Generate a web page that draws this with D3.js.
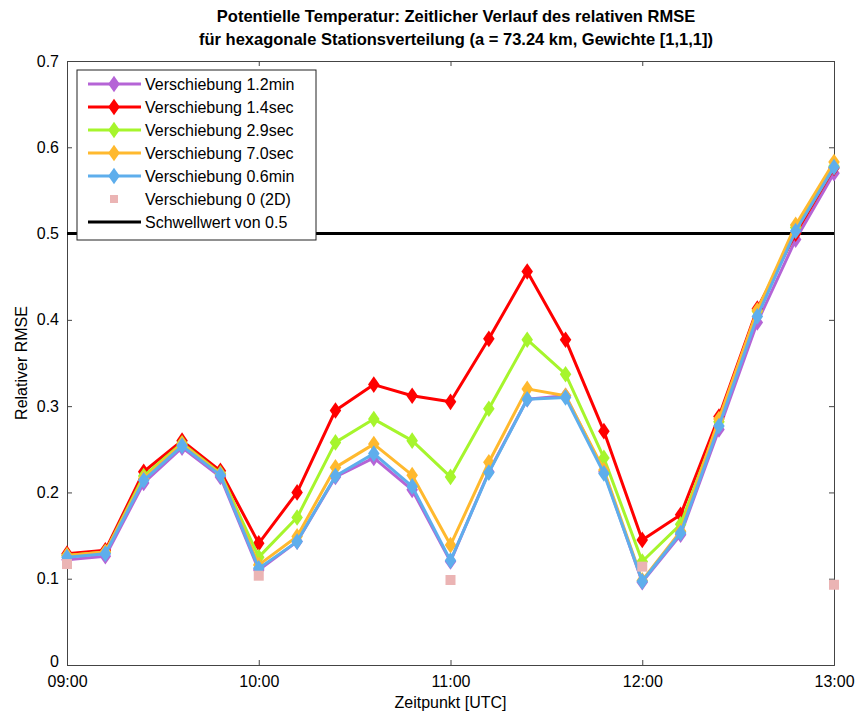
<!DOCTYPE html>
<html lang="de">
<head>
  <meta charset="UTF-8">
  <title>Relativer RMSE</title>
  <script src="https://d3js.org/d3.v7.min.js"></script>
  <style>
    body { margin: 0; background: #fff; }
    svg { display: block; font-family: "Liberation Sans", Arial, sans-serif; }
    .title { font-size: 16.5px; font-weight: bold; }
    .tick text { font-size: 16px; fill: #000; }
    .axis-label { font-size: 16px; }
    .legend text { font-size: 16px; }
  </style>
</head>
<body>
<svg width="858" height="713"></svg>
<script>
// 21 Zeitpunkte, alle 12 Minuten von 09:00 bis 13:00
const times = d3.range(21).map(i => 9 * 60 + i * 12);
const xTickLabels = ["09:00", "10:00", "11:00", "12:00", "13:00"];
const yTicks = [0, 0.1, 0.2, 0.3, 0.4, 0.5, 0.6, 0.7];

const names = ["Verschiebung 1.2min", "Verschiebung 1.4sec", "Verschiebung 2.9sec",
               "Verschiebung 7.0sec", "Verschiebung 0.6min"];
const colors = ["#b564d6", "#ff0000", "#a6f52c", "#ffb92e", "#5eaeec"];

const v12min = [0.122, 0.126, 0.211, 0.252, 0.218, 0.110, 0.143, 0.218, 0.240, 0.203, 0.120,
                0.224, 0.308, 0.312, 0.224, 0.096, 0.151, 0.273, 0.397, 0.493, 0.570];
const v14sec = [0.129, 0.133, 0.224, 0.260, 0.225, 0.141, 0.200, 0.295, 0.325, 0.312, 0.305,
                0.378, 0.456, 0.377, 0.271, 0.145, 0.174, 0.288, 0.413, 0.500, 0.576];
const v29sec = [0.127, 0.131, 0.219, 0.257, 0.222, 0.125, 0.171, 0.258, 0.285, 0.260, 0.218,
                0.297, 0.377, 0.337, 0.240, 0.120, 0.163, 0.282, 0.410, 0.507, 0.578];
const v70sec = [0.127, 0.131, 0.216, 0.256, 0.221, 0.116, 0.149, 0.229, 0.256, 0.220, 0.139,
                0.235, 0.320, 0.312, 0.226, 0.098, 0.155, 0.285, 0.411, 0.510, 0.583];
const v06min = [0.125, 0.129, 0.214, 0.254, 0.220, 0.112, 0.143, 0.219, 0.245, 0.207, 0.121,
                0.223, 0.308, 0.310, 0.222, 0.097, 0.153, 0.277, 0.404, 0.503, 0.577];
const series = [v12min, v14sec, v29sec, v70sec, v06min];

// 2D-Werte nur zu vollen Stunden
const times2D = [9 * 60, 10 * 60, 11 * 60, 12 * 60, 13 * 60];
const v2D = [0.117, 0.1035, 0.0985, 0.114, 0.093];
const threshold = 0.5;

const margin = {top: 61, right: 24, bottom: 48, left: 67},
      width = 858 - margin.left - margin.right,
      height = 713 - margin.top - margin.bottom;

const svg = d3.select("svg");
const g = svg.append("g").attr("transform", `translate(${margin.left},${margin.top})`);

const x = d3.scaleLinear().domain([9 * 60, 13 * 60]).range([0, width]);
const y = d3.scaleLinear().domain([0, 0.7]).range([height, 0]);

// Titel
svg.append("text").attr("class", "title").attr("x", 456).attr("y", 22)
  .attr("text-anchor", "middle")
  .text("Potentielle Temperatur: Zeitlicher Verlauf des relativen RMSE");
svg.append("text").attr("class", "title").attr("x", 456).attr("y", 45)
  .attr("text-anchor", "middle")
  .text("für hexagonale Stationsverteilung (a = 73.24 km, Gewichte [1,1,1])");

const hourTicks = xTickLabels.map(s => +s.slice(0, 2) * 60);

// Achsen (Ticks nach innen, Box)
const xAxis = g.append("g").attr("transform", `translate(0,${height})`)
  .call(d3.axisBottom(x).tickValues(hourTicks).tickSize(-5).tickPadding(12)
    .tickFormat((d, i) => xTickLabels[i]));
const yAxis = g.append("g")
  .call(d3.axisLeft(y).tickValues(yTicks).tickSize(-5).tickPadding(8)
    .tickFormat(d => d === 0 ? "0" : d3.format(".1f")(d)));
yAxis.selectAll(".tick text").filter(d => d === 0).attr("dy", "0.1em");
g.append("g").attr("transform", `translate(${width},0)`)
  .call(d3.axisRight(y).tickValues(yTicks).tickSize(-5).tickFormat(""));
g.append("g")
  .call(d3.axisTop(x).tickValues(hourTicks).tickSize(-5).tickFormat(""));
g.selectAll(".domain").attr("stroke", "#444");
g.selectAll(".tick line").attr("stroke", "#444");

xAxis.selectAll(".tick text").attr("dy", "0.6em");

svg.append("text").attr("class", "axis-label")
  .attr("x", margin.left + width / 2).attr("y", 708)
  .attr("text-anchor", "middle").text("Zeitpunkt [UTC]");
svg.append("text").attr("class", "axis-label")
  .attr("transform", `translate(27,${margin.top + height / 2}) rotate(-90)`)
  .attr("text-anchor", "middle").text("Relativer RMSE");

// Schwellwert
g.append("line")
  .attr("x1", 0).attr("x2", width)
  .attr("y1", y(threshold)).attr("y2", y(threshold))
  .attr("stroke", "#000").attr("stroke-width", 3);

const line = d3.line().x((d, i) => x(times[i])).y(d => y(d));
const diamond = d3.symbol().type(d3.symbolDiamond).size(80);

series.forEach((vals, k) => {
  g.append("path").datum(vals)
    .attr("fill", "none").attr("stroke", colors[k]).attr("stroke-width", 3)
    .attr("stroke-linejoin", "round")
    .attr("d", line);
  g.selectAll(null).data(vals).enter().append("path")
    .attr("d", diamond)
    .attr("transform", (d, i) => `translate(${x(times[i])},${y(d)}) scale(1.2,1)`)
    .attr("fill", colors[k]);
});

// 2D-Punkte
g.selectAll(null).data(v2D).enter().append("rect")
  .attr("x", (d, i) => x(times2D[i]) - 5)
  .attr("y", d => y(d) - 5)
  .attr("width", 10).attr("height", 10)
  .attr("fill", "#ebb4b4");

// Legende
const legend = svg.append("g").attr("class", "legend").attr("transform", "translate(77,70)");
legend.append("rect").attr("width", 239).attr("height", 170)
  .attr("fill", "#fff").attr("stroke", "#222").attr("stroke-width", 1);

const rowY = i => 14 + i * 23;
names.forEach((n, k) => {
  const r = legend.append("g").attr("transform", `translate(0,${rowY(k)})`);
  r.append("line").attr("x1", 11).attr("x2", 64).attr("stroke", colors[k]).attr("stroke-width", 3);
  r.append("path").attr("d", diamond).attr("transform", "translate(37,0) scale(1.2,1)")
    .attr("fill", colors[k]);
  r.append("text").attr("x", 68).attr("y", 6).text(n);
});
const r2d = legend.append("g").attr("transform", `translate(0,${rowY(5)})`);
r2d.append("rect").attr("x", 33).attr("y", -4).attr("width", 8).attr("height", 8).attr("fill", "#ebb4b4");
r2d.append("text").attr("x", 68).attr("y", 6).text("Verschiebung 0 (2D)");
const rTh = legend.append("g").attr("transform", `translate(0,${rowY(6)})`);
rTh.append("line").attr("x1", 11).attr("x2", 64).attr("stroke", "#000").attr("stroke-width", 3);
rTh.append("text").attr("x", 68).attr("y", 6).text("Schwellwert von 0.5");
</script>
</body>
</html>
